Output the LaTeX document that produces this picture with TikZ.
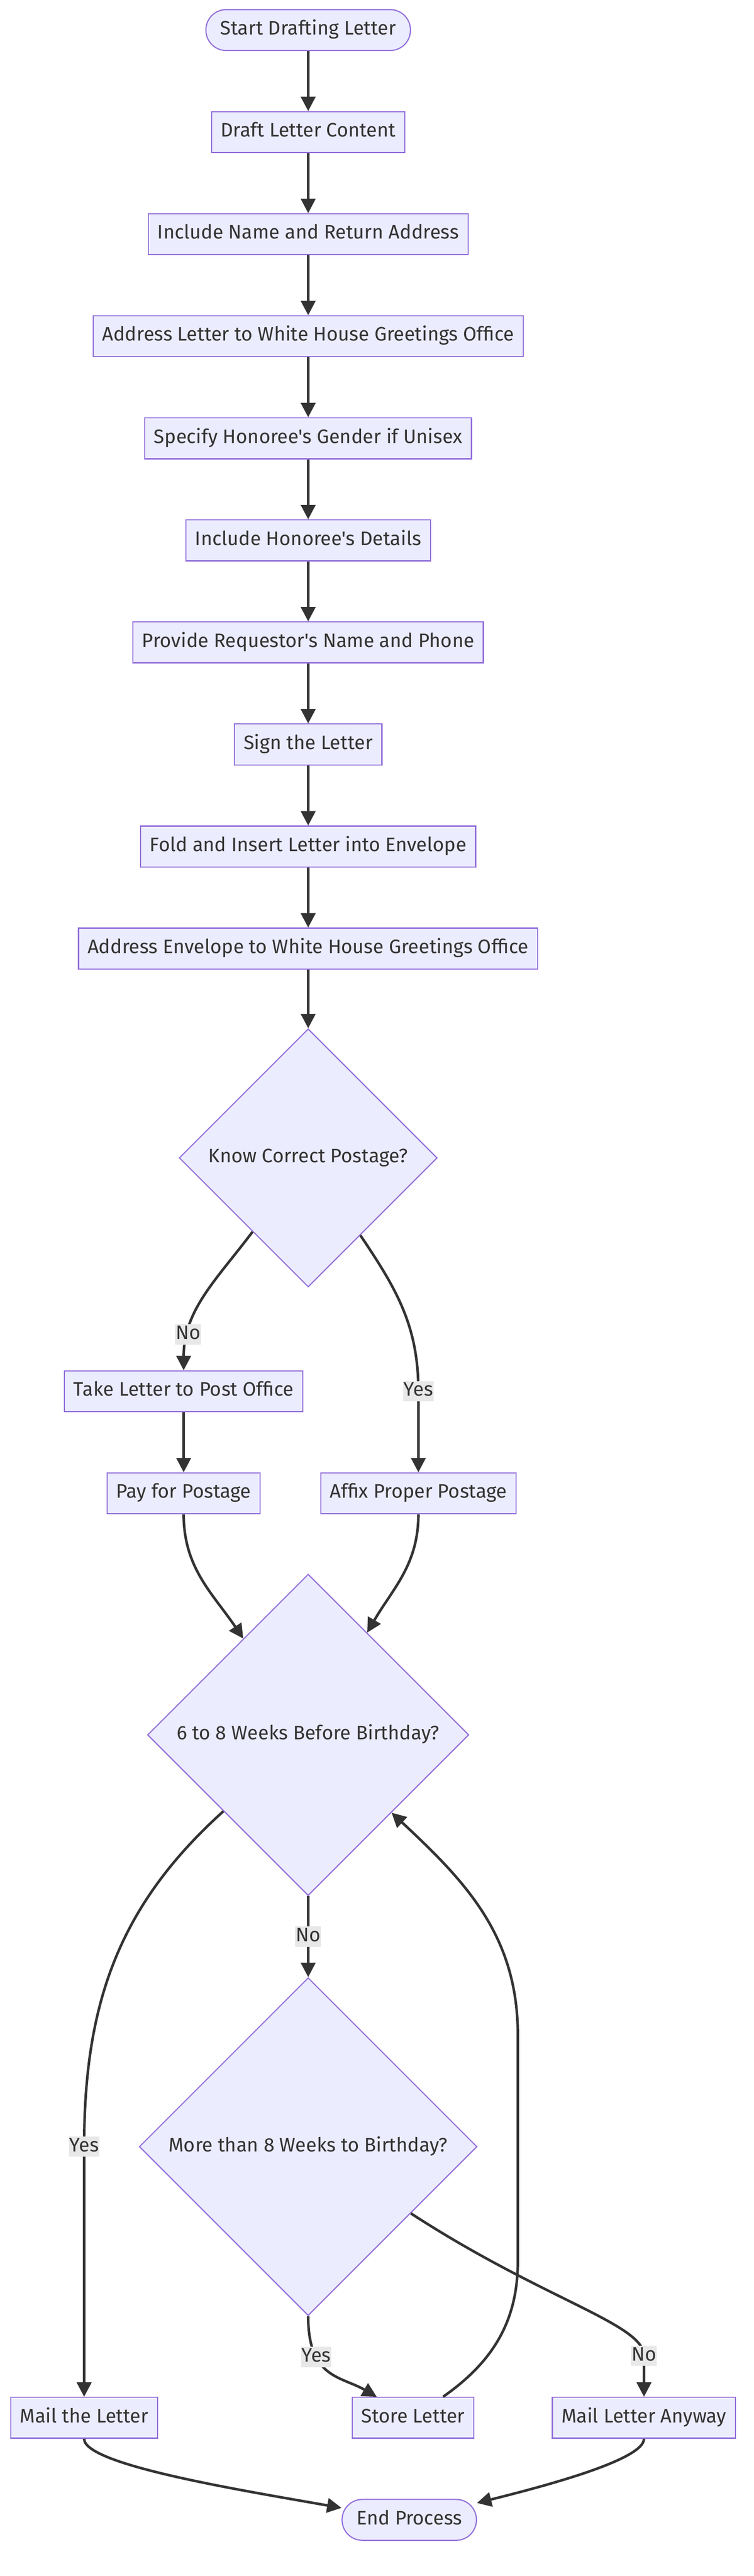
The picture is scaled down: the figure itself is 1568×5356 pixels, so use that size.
\documentclass[tikz,border=0pt]{standalone}
\usepackage{fontspec}
\setmainfont{Fira Sans}[Ligatures=TeXOff]
\usetikzlibrary{shapes.geometric}
\usetikzlibrary{arrows.meta}

\definecolor{boxfill}{HTML}{ECECFF}
\definecolor{boxline}{HTML}{9370DB}
\definecolor{ink}{HTML}{333333}
\definecolor{tagfill}{HTML}{E8E8E8}

\begin{document}
\begin{tikzpicture}[node distance=212.2pt, >={Triangle[length=30pt, width=30pt]}, font={\fontsize{40.6}{48}\selectfont}, text=ink,
	terminal/.style={rectangle, rounded corners=42pt, fill=boxfill, draw=boxline, line width=2.4pt, minimum height=85pt, inner xsep=30pt, inner ysep=0pt, text height=29pt, text depth=9pt},
	task/.style={rectangle, fill=boxfill, draw=boxline, line width=2.4pt, minimum height=85pt, inner xsep=19pt, inner ysep=0pt, text height=29pt, text depth=9pt},
	decision/.style={diamond, aspect=1, fill=boxfill, draw=boxline, line width=2.4pt, inner sep=21pt, text height=29pt, text depth=9pt},
	answer/.style={fill=tagfill, inner xsep=1pt, inner ysep=2pt, text height=29pt, text depth=9pt},
	flow/.style={->, draw=ink, line width=5.3pt}]
	\useasboundingbox (-641pt,62.5pt) rectangle (927pt,-5293.5pt);

	% nodes
	\node[terminal] (start) {Start Drafting Letter}; %
	\node[task, below of=start] (draft) {Draft Letter Content}; %
	\node[task, below of=draft] (retaddr) {Include Name and Return Address}; %
	\node[task, below of=retaddr] (addrletter) {Address Letter to White House Greetings Office}; %
	\node[task, below of=addrletter] (gender) {Specify Honoree's Gender if Unisex}; %
	\node[task, below of=gender] (honoree) {Include Honoree's Details}; %
	\node[task, below of=honoree] (requestor) {Provide Requestor's Name and Phone}; %
	\node[task, below of=requestor] (sign) {Sign the Letter}; %
	\node[task, below of=sign] (fold) {Fold and Insert Letter into Envelope}; %
	\node[task, below of=fold] (addrenv) {Address Envelope to White House Greetings Office}; %
	\node[decision, below of=addrenv, yshift=-223pt] (postage) {Know Correct Postage?}; %
	\node[task, below of=postage, xshift=-259pt, yshift=-273pt] (office) {Take Letter to Post Office}; %
	\node[task, below of=office] (pay) {Pay for Postage}; %
	\node[task, right of=pay, xshift=276pt] (affix) {Affix Proper Postage}; %
	\node[decision, below of=pay, xshift=259pt, yshift=-290pt] (window) {6 to 8 Weeks Before Birthday?}; %
	\node[decision, below of=window, yshift=-644pt] (early) {More than 8 Weeks to Birthday?}; %
	\node[task, below of=early, xshift=-466pt, yshift=-351.5pt] (mail) {Mail the Letter}; %
	\node[task, right of=mail, xshift=472pt] (store) {Store Letter}; %
	\node[task, right of=store, xshift=268pt] (anyway) {Mail Letter Anyway}; %
	\node[terminal, below of=store, xshift=-8pt] (finish) {End Process}; %

	% bends of the loop back
	\coordinate (back1) at ([xshift=436pt, yshift=-238pt]early.center);
	\coordinate (back2) at ([xshift=436pt, yshift=232pt]early.center);

	% edges
	\draw[flow] (start) -- (draft);
	\draw[flow] (draft) -- (retaddr);
	\draw[flow] (retaddr) -- (addrletter);
	\draw[flow] (addrletter) -- (gender);
	\draw[flow] (gender) -- (honoree);
	\draw[flow] (honoree) -- (requestor);
	\draw[flow] (requestor) -- (sign);
	\draw[flow] (sign) -- (fold);
	\draw[flow] (fold) -- (addrenv);
	\draw[flow] (addrenv) -- (postage);
	\draw[flow] (postage) to[out=-127, in=90] node[answer, pos=0.78] {No} (office);
	\draw[flow] (postage) to[out=-56, in=90] (affix.north |- office) node[answer] {Yes} -- (affix);
	\draw[flow] (office) -- (pay);
	\draw[flow] (pay) to[out=-90, in=124] (window);
	\draw[flow] (affix) to[out=-90, in=60] (window);
	\draw[flow] (window) to[out=-138, in=90] (mail.north |- early) node[answer] {Yes} -- (mail);
	\draw[flow] (window) -- node[answer] {No} (early);
	\draw[flow] (early) to[out=-90, in=150, out looseness=1.5] node[answer, pos=0.3] {Yes} (store);
	\draw[flow] (early) to[out=-33, in=90, out looseness=1.5, in looseness=0.3] ([yshift=85pt]anyway.north) node[answer] {No} -- (anyway);
	\draw[flow] (store) to[out=35, in=-90] (back1) -- (back2) to[out=90, in=-43] (window);
	\draw[flow] (mail) to[out=-90, in=170, out looseness=0.25] (finish);
	\draw[flow] (anyway) to[out=-90, in=14, out looseness=0.3] (finish);
\end{tikzpicture}
\end{document}
